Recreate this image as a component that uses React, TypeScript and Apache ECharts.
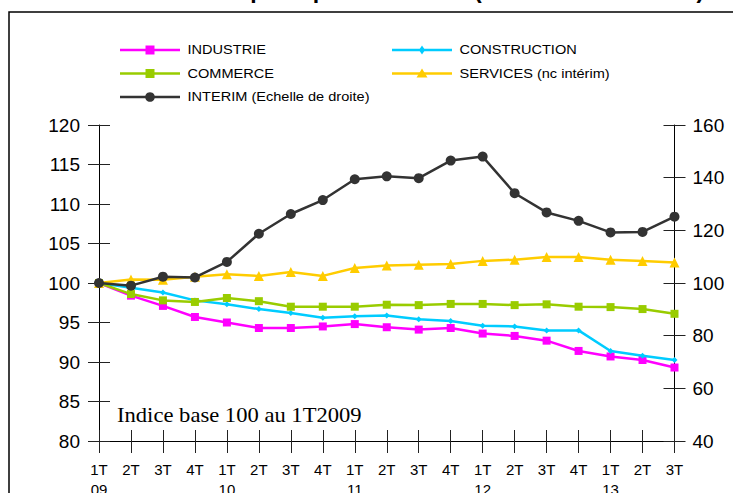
import React, { useEffect, useRef } from "react";
import * as echarts from "echarts";

const quarters = ["1T\n09","2T","3T","4T","1T\n10","2T","3T","4T","1T\n11","2T","3T","4T","1T\n12","2T","3T","4T","1T\n13","2T","3T"];
const industrie = [100,98.4,97.1,95.7,95.0,94.3,94.3,94.5,94.8,94.4,94.1,94.3,93.6,93.3,92.7,91.4,90.7,90.25,89.3];
const construction = [100,99.4,98.8,97.8,97.3,96.7,96.2,95.6,95.8,95.9,95.4,95.2,94.6,94.5,94.0,94.0,91.4,90.8,90.25];
const commerce = [100,98.6,97.8,97.6,98.1,97.7,97.0,97.0,97.0,97.25,97.2,97.35,97.35,97.2,97.3,97.0,96.95,96.7,96.1];
const services = [100,100.45,100.4,100.8,101.1,100.9,101.4,100.9,101.9,102.2,102.3,102.4,102.8,102.95,103.3,103.3,102.95,102.8,102.6];
const interim = [100,99.0,102.4,102.1,108.0,118.7,126.2,131.5,139.4,140.5,139.8,146.5,148.0,134.1,126.8,123.6,119.2,119.4,125.2];
const leftTicks = { min: 80, max: 120, interval: 5 };
const rightTicks = { min: 40, max: 160, interval: 20 };

const TITLE = "Effectifs salariés des principaux secteurs (base 100 au 1T2009)";
const NOTE = "Indice base 100 au 1T2009";

const seriesDefs = [
  { name: "INDUSTRIE", data: industrie, color: "#FF00FF", symbol: "rect", size: 8, axis: 0, lx: 120, ly: 50 },
  { name: "CONSTRUCTION", data: construction, color: "#00CCFF", symbol: "diamond", size: 6, axis: 0, lx: 392, ly: 50 },
  { name: "COMMERCE", data: commerce, color: "#99CC00", symbol: "rect", size: 8, axis: 0, lx: 120, ly: 73.5 },
  { name: "SERVICES (nc intérim)", data: services, color: "#FFCC00", symbol: "triangle", size: 10, axis: 0, lx: 392, ly: 73.5 },
  { name: "INTERIM (Echelle de droite)", data: interim, color: "#333333", symbol: "circle", size: 10, axis: 1, lx: 120, ly: 97 },
];

function legendSymbol(symbol: string, color: string, cx: number, cy: number) {
  if (symbol === "rect") return { type: "rect", shape: { x: cx - 4.5, y: cy - 4.5, width: 9, height: 9 }, style: { fill: color } };
  if (symbol === "circle") return { type: "circle", shape: { cx, cy, r: 4.8 }, style: { fill: color } };
  if (symbol === "diamond") return { type: "polygon", shape: { points: [[cx, cy - 4.5], [cx + 3, cy], [cx, cy + 4.5], [cx - 3, cy]] }, style: { fill: color } };
  return { type: "polygon", shape: { points: [[cx, cy - 5], [cx + 5.5, cy + 4], [cx - 5.5, cy + 4]] }, style: { fill: color } };
}

export default function App() {
  const ref = useRef<HTMLDivElement>(null);
  useEffect(() => {
    if (!ref.current) return;
    const chart = echarts.init(ref.current, null, { renderer: "svg" });
    const font = "Arial, 'Liberation Sans', sans-serif";
    const tickStyle = { color: "#222", width: 1 };
    const legendGraphics: any[] = [];
    seriesDefs.forEach((s) => {
      legendGraphics.push({
        type: "group", silent: true, z: 10,
        children: [
          { type: "line", shape: { x1: s.lx, y1: s.ly, x2: s.lx + 60, y2: s.ly }, style: { stroke: s.color, lineWidth: 2.5 } },
          legendSymbol(s.symbol, s.color, s.lx + 30, s.ly),
          { type: "text", x: s.lx + 67.5, y: s.ly, scaleX: 1.12, style: { text: s.name, fontFamily: font, fontSize: 13, fill: "#000", verticalAlign: "middle", align: "left" } },
        ],
      });
    });
    chart.setOption({
      animation: false,
      backgroundColor: "#fff",
      grid: { left: 99, right: 58.5, top: 125, bottom: 52, containLabel: false, outerBoundsMode: "none" },
      xAxis: [
        {
          type: "category", data: quarters, boundaryGap: false,
          axisLine: { lineStyle: { color: "#000", width: 1 } },
          axisTick: { show: true, inside: false, length: 12, lineStyle: tickStyle },
          axisLabel: { fontFamily: font, fontSize: 15, color: "#000", margin: 18, lineHeight: 20, interval: 0, verticalAlign: "top" },
          splitLine: { show: false },
        },
        {
          type: "category", data: quarters, boundaryGap: false, position: "bottom",
          axisLine: { show: false },
          axisTick: { show: true, inside: true, length: 11, lineStyle: tickStyle },
          axisLabel: { show: false },
          splitLine: { show: false },
        },
      ],
      yAxis: [
        {
          type: "value", ...leftTicks, position: "left",
          axisLine: { show: true, lineStyle: { color: "#000", width: 1 } },
          axisTick: { show: true, inside: false, length: 11, lineStyle: tickStyle },
          axisLabel: { fontFamily: font, fontSize: 19, color: "#000", margin: 19 },
          splitLine: { show: false },
        },
        {
          type: "value", ...rightTicks, position: "right",
          axisLine: { show: true, lineStyle: { color: "#000", width: 1 } },
          axisTick: { show: true, inside: false, length: 11, lineStyle: tickStyle },
          axisLabel: { fontFamily: font, fontSize: 19, color: "#000", margin: 18 },
          splitLine: { show: false },
        },
        {
          type: "value", ...leftTicks, position: "left",
          axisLine: { show: false },
          axisTick: { show: true, inside: true, length: 11, lineStyle: tickStyle },
          axisLabel: { show: false },
          splitLine: { show: false },
        },
        {
          type: "value", ...rightTicks, position: "right",
          axisLine: { show: false },
          axisTick: { show: true, inside: true, length: 11, lineStyle: tickStyle },
          axisLabel: { show: false },
          splitLine: { show: false },
        },
      ],
      series: seriesDefs.map((s, i) => ({
        name: s.name, type: "line", data: s.data, yAxisIndex: s.axis, z: 2 + i,
        symbol: s.symbol, symbolSize: s.size,
        lineStyle: { color: s.color, width: 2.5 },
        itemStyle: { color: s.color },
      })),
      graphic: [
        {
          type: "rect", z: 0, silent: true,
          shape: { x: 9, y: 12, width: 900, height: 700 },
          style: { fill: "none", stroke: "#000", lineWidth: 1.5 },
        },
        {
          type: "text", x: 15, y: 1, z: 10,
          style: { text: TITLE, fontFamily: font, fontWeight: "bold", fontSize: 23, fill: "#000", verticalAlign: "bottom", align: "left" },
        },
        {
          type: "text", x: 117, y: 415, z: 10, scaleX: 1.13,
          style: { text: NOTE, fontFamily: "'Liberation Serif', 'Times New Roman', serif", fontSize: 20, fill: "#000", verticalAlign: "middle", align: "left" },
        },
        ...legendGraphics,
      ],
    });
    return () => chart.dispose();
  }, []);
  return <div ref={ref} style={{ width: 733, height: 493, position: "absolute", left: 0, top: 0 }} />;
}
